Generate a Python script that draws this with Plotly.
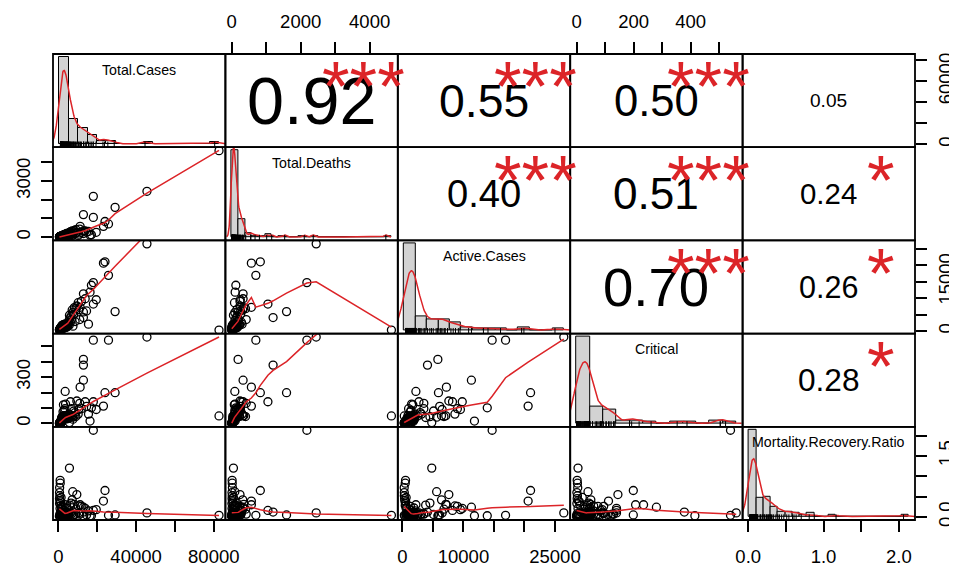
import numpy as np
import plotly.graph_objects as go

# ---------------- data ----------------
var_names = ["Total.Cases", "Total.Deaths", "Active.Cases", "Critical", "Mortality.Recovery.Ratio"]

total_cases = [82700, 45600, 29200, 18000, 18000, 23200, 24000, 25800, 12900, 12900,
               12900, 3500, 11200, 5700, 900, 950, 600, 7400, 16300, 17000,
               15500, 19500, 10500, 11000, 13800, 10200, 14500, 11800,
               520, 560, 610, 650, 700, 740, 800, 850, 900, 980,
               1050, 1100, 1150, 1200, 1280, 1350, 1400, 1480, 1550, 1600,
               1700, 1750, 1850, 1900, 2000, 2100, 2200, 2300, 2400, 2500,
               2600, 2700, 2800, 2950, 3050, 3150, 3300, 3400, 3550, 3700,
               3800, 3900, 4000, 4100, 4250, 4350, 4450, 4550, 4650, 4750,
               4850, 4950, 5200, 5400, 5600, 5900, 6200, 6500, 6800, 7100,
               7500, 7900, 8200, 8600, 9000, 9500]
total_deaths = [4632, 2450, 1590, 2180, 1050, 570, 830, 700, 185, 1200,
                330, 90, 570, 50, 12, 15, 8, 90, 100, 120,
                300, 250, 150, 420, 330, 80, 260, 240,
                3, 10, 6, 20, 2, 14, 5, 9, 22, 4,
                18, 30, 7, 40, 12, 25, 50, 9, 35, 60,
                15, 45, 28, 70, 20, 55, 85, 40, 100, 30,
                75, 110, 50, 90, 35, 120, 65, 140, 45, 95,
                160, 55, 130, 70, 180, 85, 60, 150, 100, 210,
                75, 125, 160, 90, 230, 120, 280, 150, 200, 320,
                110, 260, 350, 180, 400, 240]
active_cases = [300, 26450, 5900, 14700, 8200, 20600, 21000, 16900, 5800, 4100,
                11300, 2200, 7200, 4800, 500, 450, 300, 5600, 11800, 13900,
                2100, 9500, 6500, 3500, 9800, 8600, 6100, 9000,
                400, 350, 480, 280, 620, 300, 650, 600, 380, 870,
                700, 540, 1000, 450, 1100, 900, 600, 1300, 1100, 700,
                1450, 1200, 1600, 900, 1750, 1500, 800, 1900, 1300, 1800,
                1700, 900, 1950, 1400, 1850, 1200, 1600, 1000, 1900, 1500,
                1100, 1800, 1700, 1350, 1900, 1600, 1250, 1950, 1450, 1800,
                1650, 1900, 2500, 3100, 1800, 3800, 2700, 4500, 3500, 6400,
                1500, 5100, 7100, 2900, 6800, 7600]
critical = [48, 560, 199, 540, 140, 112, 199, 540, 415, 378,
            280, 207, 235, 5, 2, 3, 1, 40, 15, 101,
            60, 90, 90, 130, 140, 60, 110, 95,
            0, 2, 1, 4, 0, 3, 2, 5, 6, 1,
            8, 10, 3, 12, 6, 15, 20, 4, 25, 30,
            8, 40, 18, 35, 12, 45, 35, 22, 75, 45,
            120, 50, 28, 85, 30, 48, 42, 95, 38, 125,
            44, 40, 50, 33, 47, 36, 35, 49, 30, 46,
            32, 41, 48, 60, 45, 38, 140, 43, 95, 50,
            27, 80, 49, 70, 44, 145]
mortality_recovery_ratio = [0.04, 0.10, 0.05, 2.13, 0.16, 0.39, 0.65, 0.04, 0.03, 0.12,
                            0.24, 0.30, 0.30, 1.20, 0.90, 0.83, 0.60, 0.62, 0.03, 0.03,
                            0.15, 0.18, 0.10, 0.07, 0.21, 0.27, 0.05, 0.26,
                            0.02, 0.45, 0.33, 0.72, 0.03, 0.52, 0.08, 0.21, 0.40, 0.01,
                            0.06, 0.37, 0.05, 0.28, 0.06, 0.12, 0.48, 0.02, 0.19, 0.24,
                            0.04, 0.07, 0.09, 0.11, 0.03, 0.09, 0.08, 0.07, 0.26, 0.02,
                            0.03, 0.06, 0.05, 0.16, 0.01, 0.09, 0.04, 0.10, 0.03, 0.07,
                            0.12, 0.02, 0.05, 0.08, 0.22, 0.06, 0.03, 0.11, 0.04, 0.09,
                            0.01, 0.09, 0.04, 0.07, 0.05, 0.29, 0.10, 0.34, 0.08, 0.42,
                            0.03, 0.06, 0.31, 0.06, 0.19, 0.55]

# correlations shown in the upper panels (as printed on the reference)
cor_pairs = [(0, 1), (0, 2), (0, 3), (0, 4), (1, 2), (1, 3), (1, 4), (2, 3), (2, 4), (3, 4)]
cor_text = ["0.92", "0.55", "0.50", "0.05", "0.40", "0.51", "0.24", "0.70", "0.26", "0.28"]
cor_stars = ["***", "***", "***", "", "***", "***", "*", "***", "*", "*"]

# histogram bin widths per variable
hist_bin = [5000, 200, 2000, 50, 0.1]

# axis ticks
tick_vals = [[0, 20000, 40000, 60000, 80000],
             [0, 1000, 2000, 3000, 4000],
             [0, 5000, 10000, 15000, 20000, 25000],
             [0, 100, 200, 300, 400, 500],
             [0.0, 0.5, 1.0, 1.5, 2.0]]
tick_text_x = [["0", "", "40000", "", "80000"],
               ["0", "", "2000", "", "4000"],
               ["0", "", "10000", "", "", "25000"],
               ["0", "", "200", "", "400", ""],
               ["0.0", "", "1.0", "", "2.0"]]
tick_text_y = [["0", "", "", "60000", ""],
               ["0", "", "", "3000", ""],
               ["0", "", "", "15000", "", ""],
               ["0", "", "", "300", "", ""],
               ["0.0", "", "", "1.5", ""]]

# ---------------- helpers ----------------
data = [np.asarray(v, float) for v in (total_cases, total_deaths, active_cases,
                                        critical, mortality_recovery_ratio)]
NV = len(data)


def pad_range(lo, hi, f=0.04):
    s = hi - lo
    return [lo - f * s, hi + f * s]


def lowess(x, y, f=2 / 3, iters=3):
    o = np.argsort(x, kind="stable")
    x = x[o]
    y = y[o]
    n = len(x)
    ns = max(min(int(f * n + 1e-7), n), 2)
    rw = np.ones(n)
    ys = np.zeros(n)
    for it in range(iters + 1):
        for i in range(n):
            d = np.abs(x - x[i])
            h = np.sort(d)[ns - 1]
            if h > 0:
                r = d / h
                w = np.where(r <= 0.999, (1 - np.clip(r, 0, 1) ** 3) ** 3, 0.0)
                w = np.where(r <= 0.001, 1.0, w)
            else:
                w = (d == 0).astype(float)
            w = w * rw
            sw = w.sum()
            if sw <= 0:
                ys[i] = y[i]
                continue
            w = w / sw
            a = np.sum(w * x)
            b = np.sum(w * (x - a) ** 2)
            if h > 0 and np.sqrt(b) > 0.001 * (x[-1] - x[0]):
                wts = w * (1 + (x[i] - a) * (x - a) / b)
            else:
                wts = w
            ys[i] = np.sum(wts * y)
        if it == iters:
            break
        res = y - ys
        cmad = 6 * np.median(np.abs(res))
        if cmad < 1e-7 * np.mean(np.abs(y)):
            break
        r = np.abs(res) / cmad
        rw = np.where(r < 1, (1 - r ** 2) ** 2, 0.0)
        rw = np.where(r <= 0.001, 1.0, rw)
    return x, ys


def kde(x, n=512):
    nx = len(x)
    sd = np.std(x, ddof=1)
    q75, q25 = np.percentile(x, [75, 25])
    lo = min(sd, (q75 - q25) / 1.34)
    if lo <= 0:
        lo = sd if sd > 0 else 1.0
    bw = 0.9 * lo * nx ** (-0.2)
    g = np.linspace(x.min() - 3 * bw, x.max() + 3 * bw, n)
    dens = np.exp(-0.5 * ((g[:, None] - x[None, :]) / bw) ** 2).sum(1) / (nx * bw * np.sqrt(2 * np.pi))
    return g, dens


def em_width(s):
    w = {".": 0.278}
    return sum(w.get(c, 0.556) for c in s)


ranges = [pad_range(v.min(), v.max()) for v in data]

# page body has an 8px margin: compensate so the panel grid lands where the reference has it
W, H = 957, 566
ML, MR, MT, MB = 45, 50, 46, 54
pw = (W - ML - MR) / 5.0
ph = (H - MT - MB) / 5.0

FONT = "Liberation Sans, Arial, sans-serif"
tick_font = dict(family=FONT, size=18.5, color="black")
RED = "#DC2428"

fig = go.Figure()
layout = {}
annotations = []
shapes = []


def names(k):
    xn = "x" if k == 1 else f"x{k}"
    yn = "y" if k == 1 else f"y{k}"
    xk = "xaxis" if k == 1 else f"xaxis{k}"
    yk = "yaxis" if k == 1 else f"yaxis{k}"
    return xn, yn, xk, yk


tick_style = dict(ticks="outside", ticklen=11, tickwidth=1.5, tickcolor="black",
                  showticklabels=True, tickfont=tick_font)

for i in range(NV):
    for j in range(NV):
        k = i * NV + j + 1
        xn, yn, xk, yk = names(k)
        xdom = [j / 5, (j + 1) / 5]
        ydom = [1 - (i + 1) / 5, 1 - i / 5]
        xa = dict(domain=xdom, anchor=yn, range=ranges[j], showgrid=False, zeroline=False,
                  showline=False, ticks="", showticklabels=False, fixedrange=True,
                  automargin=False)
        ya = dict(domain=ydom, anchor=xn, range=ranges[i], showgrid=False, zeroline=False,
                  showline=False, ticks="", showticklabels=False, fixedrange=True,
                  automargin=False)
        if i == 0 and j % 2 == 1:
            xa.update(side="top", tickvals=tick_vals[j], ticktext=tick_text_x[j],
                      ticklabelstandoff=7, **tick_style)
        if i == NV - 1 and j % 2 == 0:
            xa.update(side="bottom", tickvals=tick_vals[j], ticktext=tick_text_x[j],
                      ticklabelstandoff=9, **tick_style)
        if j == 0 and i % 2 == 1:
            ya.update(side="left", tickvals=tick_vals[i], ticktext=tick_text_y[i],
                      tickangle=-90, ticklabelstandoff=4, **tick_style)
        if j == NV - 1 and i % 2 == 0:
            ya.update(side="right", tickvals=tick_vals[i], ticktext=tick_text_y[i],
                      tickangle=-90, ticklabelstandoff=3, **tick_style)
        layout[xk] = xa
        layout[yk] = ya

        # panel box
        shapes.append(dict(type="rect", xref="paper", yref="paper",
                           x0=xdom[0], x1=xdom[1], y0=ydom[0], y1=ydom[1],
                           line=dict(color="black", width=1.8), layer="above"))

        if i > j:
            xv, yv = data[j], data[i]
            fig.add_trace(go.Scatter(x=xv, y=yv, mode="markers", xaxis=xn, yaxis=yn,
                                     marker=dict(symbol="circle-open", size=8,
                                                 color="black", line=dict(width=1.3, color="black")),
                                     hoverinfo="skip"))
            lx, ly = lowess(xv, yv)
            fig.add_trace(go.Scatter(x=lx, y=ly, mode="lines", xaxis=xn, yaxis=yn,
                                     line=dict(color=RED, width=1.5), hoverinfo="skip"))
        else:
            # empty trace so the panel's own axes (ticks) are drawn
            fig.add_trace(go.Scatter(x=[None], y=[None], mode="markers", xaxis=xn, yaxis=yn,
                                     hoverinfo="skip"))
        if i == j:
            x = data[i]
            b = hist_bin[i]
            lo_b = np.floor(x.min() / b + 1e-9) * b
            hi_b = np.ceil(x.max() / b - 1e-9) * b
            nb = int(round((hi_b - lo_b) / b))
            edges = lo_b + b * np.arange(nb + 1)
            idx = np.searchsorted(edges, x - 1e-9 * b, side="left") - 1
            idx = np.clip(idx, 0, nb - 1)
            counts = np.bincount(idx, minlength=nb)
            dh = counts / (len(x) * b)
            centers = (edges[:-1] + edges[1:]) / 2
            hx = pad_range(edges[0], edges[-1])
            hy = pad_range(0, dh.max())
            ko = NV * NV + i + 1
            oxn, oyn, oxk, oyk = names(ko)
            layout[oxk] = dict(domain=xdom, anchor=oyn, overlaying=xn, range=hx,
                               visible=False, fixedrange=True, automargin=False)
            layout[oyk] = dict(domain=ydom, anchor=oxn, overlaying=yn, range=hy,
                               visible=False, fixedrange=True, automargin=False)
            fig.add_trace(go.Bar(x=centers, y=dh, width=b, xaxis=oxn, yaxis=oyn,
                                 marker=dict(color="#D3D3D3", line=dict(color="black", width=1)),
                                 hoverinfo="skip"))
            g, dens = kde(x)
            fig.add_trace(go.Scatter(x=g, y=dens, mode="lines", xaxis=oxn, yaxis=oyn,
                                     line=dict(color=RED, width=1.5), hoverinfo="skip"))
            fig.add_trace(go.Scatter(x=x, y=np.full(len(x), hy[0]), mode="markers",
                                     xaxis=oxn, yaxis=oyn, hoverinfo="skip",
                                     marker=dict(symbol="line-ns", size=8,
                                                 line=dict(width=1, color="black"))))
            annotations.append(dict(x=(j + 0.5) / 5, y=ydom[0] + 0.833 / 5, xref="paper",
                                    yref="paper", text=var_names[i], showarrow=False,
                                    font=dict(family=FONT, size=14.2, color="black"),
                                    xanchor="center", yanchor="middle"))

# correlation numbers and stars
for (a, b2), txt, st in zip(cor_pairs, cor_text, cor_stars):
    i, j = a, b2
    r = abs(float(txt))
    full = 0.8 * pw / em_width(txt)
    annotations.append(dict(x=(j + 0.5) / 5, y=1 - (i + 0.5) / 5, xref="paper", yref="paper",
                            text=txt, showarrow=False, xanchor="center", yanchor="middle",
                            font=dict(family=FONT, size=full * (r + 0.3) / 1.3, color="black")))
    if st:
        annotations.append(dict(x=(j + 0.8) / 5, y=1 - (i + 0.2) / 5, xref="paper", yref="paper",
                                text=st, showarrow=False, xanchor="center", yanchor="middle",
                                yshift=-0.2 * full,
                                font=dict(family=FONT, size=full, color=RED)))

fig.update_layout(width=W, height=H, margin=dict(l=ML, r=MR, t=MT, b=MB, pad=0),
                  paper_bgcolor="white", plot_bgcolor="white", showlegend=False,
                  bargap=0, annotations=annotations, shapes=shapes, **layout)
fig.write_html("out.html")
